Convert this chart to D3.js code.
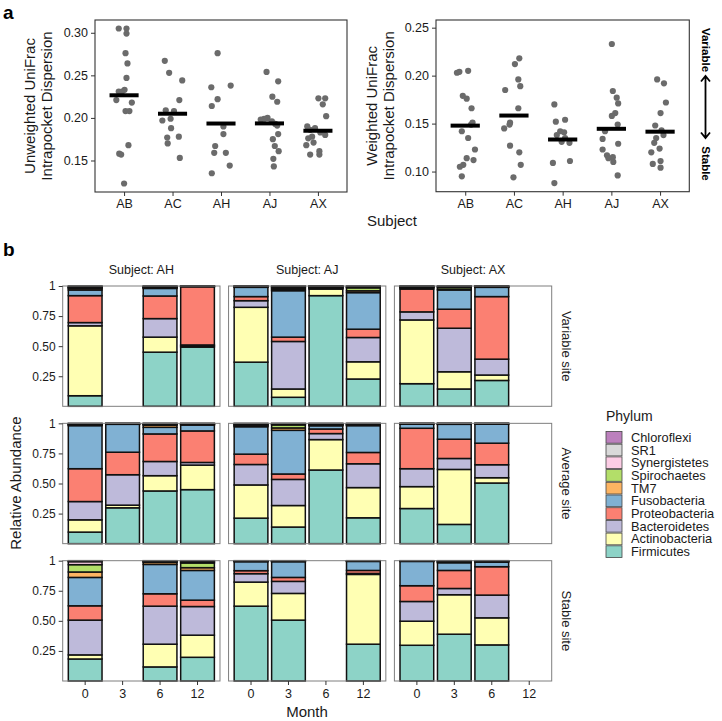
<!DOCTYPE html>
<html><head><meta charset="utf-8">
<script src="https://cdn.jsdelivr.net/npm/d3@7"></script>
<style>
body{margin:0;background:#fff}
svg{display:block}
text{font-family:"Liberation Sans",Arial,Helvetica,sans-serif}
</style>
</head><body>
<svg id="chart" width="722" height="721"></svg>
<script>
// ---------------- Panel a data ----------------
const subjectsA = ["AB","AC","AH","AJ","AX"];
const unweighted = [
  [0.305,0.305,0.299,0.276,0.264,0.247,0.233,0.231,0.231,0.221,0.218,0.208,0.208,0.158,0.157,0.168,0.123],
  [0.267,0.253,0.244,0.221,0.209,0.208,0.199,0.197,0.188,0.177,0.178,0.170,0.153],
  [0.276,0.236,0.238,0.222,0.214,0.190,0.181,0.167,0.159,0.159,0.144,0.135],
  [0.254,0.243,0.225,0.219,0.200,0.199,0.198,0.196,0.193,0.191,0.181,0.175,0.167,0.161,0.152,0.143],
  [0.223,0.223,0.216,0.202,0.190,0.188,0.186,0.183,0.180,0.178,0.176,0.171,0.168,0.161,0.157,0.157]
];
const unweightedJitter = [
  [-0.11,0.05,0.05,0.03,0.07,0.05,0.01,-0.11,-0.04,-0.16,0.16,0.03,0.11,-0.10,-0.06,0.09,0.00],
  [-0.16,-0.07,0.20,0.14,-0.14,0.03,-0.04,-0.21,-0.03,-0.11,0.13,-0.10,0.15],
  [-0.07,-0.20,0.20,-0.07,-0.19,0.05,0.05,-0.12,-0.14,0.10,0.18,-0.19],
  [-0.06,0.18,0.06,0.16,-0.04,-0.11,-0.18,0.05,0.12,0.16,0.18,0.07,0.11,0.19,0.08,0.09],
  [0.01,0.15,0.10,0.17,-0.22,-0.06,-0.16,0.05,0.15,-0.12,-0.20,-0.09,-0.24,0.03,-0.16,0.03]
];
const weighted = [
  [0.203,0.204,0.205,0.179,0.176,0.166,0.151,0.149,0.142,0.135,0.123,0.114,0.112,0.107,0.105,0.095],
  [0.218,0.212,0.196,0.189,0.185,0.166,0.151,0.149,0.145,0.127,0.120,0.107,0.094],
  [0.170,0.152,0.154,0.142,0.141,0.138,0.135,0.131,0.130,0.109,0.111,0.088],
  [0.233,0.184,0.177,0.171,0.161,0.158,0.149,0.142,0.134,0.129,0.123,0.117,0.115,0.114,0.110,0.096],
  [0.196,0.192,0.172,0.161,0.148,0.143,0.138,0.135,0.130,0.124,0.120,0.111,0.108,0.104]
];
const weightedJitter = [
  [-0.17,-0.12,0.06,-0.05,0.03,0.13,0.15,0.12,-0.07,0.06,0.20,0.03,0.17,-0.04,-0.11,-0.07],
  [0.11,0.02,0.09,0.13,-0.18,0.09,-0.08,-0.09,-0.20,-0.08,0.11,0.14,-0.01],
  [-0.17,-0.14,0.05,-0.05,0.03,-0.12,0.05,-0.02,0.14,-0.20,0.15,-0.17],
  [0.01,0.03,0.11,0.14,0.08,0.01,0.13,-0.13,-0.18,0.14,-0.18,-0.09,0.03,-0.06,0.04,0.13],
  [-0.06,0.08,0.12,0.01,-0.10,0.03,0.07,-0.08,-0.12,-0.01,-0.18,0.01,-0.15,0.01]
];
const yDomainUnweighted = [0.113, 0.315];
const yDomainWeighted = [0.079, 0.258];
const yTicksUnweighted = [0.15, 0.20, 0.25, 0.30];
const yTicksWeighted = [0.10, 0.15, 0.20, 0.25];

// ---------------- Panel b data ----------------
const phyla = ["Firmicutes","Actinobacteria","Bacteroidetes","Proteobacteria","Fusobacteria",
               "TM7","Spirochaetes","Synergistetes","SR1","Chloroflexi"];
const phylumColors = ["#8DD3C7","#FFFFB3","#BEBADA","#FB8072","#80B1D3",
                      "#FDB462","#B3DE69","#FCCDE5","#D9D9D9","#BC80BD"];
const subjectsB = ["AH","AJ","AX"];
const months = ["0","3","6","12"];
const sites = ["Variable site","Average site","Stable site"];
// each subject: one entry per month (null = no sample), values in phyla order
const variableSite = [
  [[.088,.581,.027,.224,.047,.013,.005,.005,.005,.005], null,
   [.450,.125,.154,.188,.063,.005,.005,.003,.004,.003],
   [.492,.010,.008,.484,.002,.001,.001,.001,.001,.000]],
  [[.367,.456,.055,.034,.077,.004,.003,.002,.001,.001],
   [.075,.069,.395,.036,.386,.009,.010,.008,.006,.006],
   [.920,.055,.005,.005,.005,.003,.003,.002,.001,.001],
   [.227,.143,.202,.069,.304,.015,.025,.005,.005,.005]],
  [[.188,.530,.067,.190,.010,.004,.004,.003,.002,.002],
   [.144,.143,.362,.158,.160,.008,.015,.004,.003,.003],
   [.215,.045,.132,.520,.077,.003,.003,.002,.002,.001], null]
];
const averageSite = [
  [[.096,.102,.152,.273,.358,.005,.005,.003,.003,.003],
   [.298,.022,.253,.187,.232,.002,.002,.002,.001,.001],
   [.438,.127,.118,.229,.055,.018,.005,.004,.004,.002],
   [.449,.204,.022,.262,.049,.004,.003,.003,.002,.002]],
  [[.212,.276,.170,.086,.228,.008,.006,.005,.005,.004],
   [.138,.179,.217,.045,.363,.020,.025,.005,.004,.004],
   [.612,.253,.050,.038,.027,.005,.005,.004,.003,.003],
   [.215,.251,.198,.094,.223,.005,.005,.003,.003,.003]],
  [[.292,.182,.149,.336,.035,.002,.002,.001,.001,.000],
   [.160,.457,.091,.160,.124,.002,.002,.002,.001,.001],
   [.504,.044,.108,.179,.159,.002,.002,.001,.001,.000], null]
];
const stableSite = [
  [[.183,.034,.289,.119,.236,.045,.061,.025,.004,.004], null,
   [.117,.189,.316,.103,.244,.017,.005,.004,.003,.002],
   [.197,.184,.238,.053,.247,.023,.039,.008,.006,.005]],
  [[.622,.200,.070,.025,.075,.002,.002,.001,.001,.002],
   [.506,.222,.100,.033,.131,.002,.002,.002,.001,.001], null,
   [.306,.580,.008,.025,.075,.002,.002,.001,.001,.000]],
  [[.297,.200,.164,.131,.202,.002,.002,.001,.001,.000],
   [.389,.328,.052,.150,.064,.005,.004,.003,.003,.002],
   [.300,.225,.189,.236,.039,.003,.003,.002,.002,.001], null]
];
const abundanceTicks = [0.25, 0.5, 0.75, 1];
const abundanceTickLabels = ["0.25","0.50","0.75","1"];

// ---------------- Drawing ----------------
const svg = d3.select("#chart");
const TXT = "#1a1a1a";

svg.append("text").attr("x",3).attr("y",19).attr("font-size",19).attr("font-weight","bold").text("a");
svg.append("text").attr("x",3).attr("y",256).attr("font-size",19).attr("font-weight","bold").text("b");

function dotPanel(cfg){
  const g = svg.append("g");
  const x = d3.scalePoint().domain(subjectsA).range([cfg.x0, cfg.x1]).padding(0.6);
  const y = d3.scaleLinear().domain(cfg.domain).range([cfg.y1, cfg.y0]);
  const step = x.step();
  subjectsA.forEach((s,i)=>{
    cfg.values[i].forEach((v,j)=>{
      g.append("circle").attr("cx", x(s) + cfg.jitter[i][j]*step).attr("cy", y(v)).attr("r",3.1)
        .attr("fill","#6b6b6b");
    });
    const m = d3.mean(cfg.values[i]);
    g.append("line").attr("x1", x(s)-0.3*step).attr("x2", x(s)+0.3*step)
      .attr("y1", y(m)).attr("y2", y(m)).attr("stroke","#000").attr("stroke-width",4);
  });
  g.append("rect").attr("x",cfg.x0).attr("y",cfg.y0).attr("width",cfg.x1-cfg.x0).attr("height",cfg.y1-cfg.y0)
    .attr("fill","none").attr("stroke","#333").attr("stroke-width",1.1);
  const ya = g.append("g").attr("transform",`translate(${cfg.x0},0)`)
    .call(d3.axisLeft(y).tickValues(cfg.ticks).tickFormat(d3.format(".2f")).tickSize(4).tickPadding(3));
  const xa = g.append("g").attr("transform",`translate(0,${cfg.y1})`)
    .call(d3.axisBottom(x).tickSize(4).tickPadding(3));
  [ya,xa].forEach(a=>{
    a.select(".domain").remove();
    a.selectAll(".tick line").attr("stroke","#333");
    a.selectAll(".tick text").attr("font-size",12.5).attr("fill",TXT)
      .attr("font-family",'"Liberation Sans",Arial,sans-serif');
  });
  cfg.title.forEach((t,k)=>{
    g.append("text").attr("transform",`translate(${cfg.titleX[k]},${(cfg.y0+cfg.y1)/2}) rotate(-90)`)
      .attr("text-anchor","middle").attr("dominant-baseline","central")
      .attr("font-size",15).attr("fill",TXT).text(t);
  });
}

dotPanel({x0:95,x1:347,y0:20,y1:192,domain:yDomainUnweighted,ticks:yTicksUnweighted,
  values:unweighted,jitter:unweightedJitter,title:["Unweighted UniFrac","Intrapocket Dispersion"],titleX:[29,46]});
dotPanel({x0:436,x1:689.3,y0:20,y1:191.7,domain:yDomainWeighted,ticks:yTicksWeighted,
  values:weighted,jitter:weightedJitter,title:["Weighted UniFrac","Intrapocket Dispersion"],titleX:[371,388]});

svg.append("text").attr("x",392).attr("y",226).attr("text-anchor","middle").attr("font-size",15)
  .attr("fill",TXT).text("Subject");

const ax = 705.5;
svg.append("text").attr("transform",`translate(${ax},50) rotate(90)`).attr("text-anchor","middle")
  .attr("dominant-baseline","central").attr("font-size",11.5).attr("font-weight","bold").text("Variable");
svg.append("text").attr("transform",`translate(${ax},163.5) rotate(90)`).attr("text-anchor","middle")
  .attr("dominant-baseline","central").attr("font-size",11.5).attr("font-weight","bold").text("Stable");
svg.append("path").attr("d",`M${ax},76 L${ax},138 M${ax-4.5},81.5 L${ax},76 L${ax+4.5},81.5 M${ax-4.5},132.5 L${ax},138 L${ax+4.5},132.5`)
  .attr("fill","none").attr("stroke","#000").attr("stroke-width",1.8);

// ---------------- Panel b ----------------
const rowScale = d3.scaleBand().domain(sites).range([286, 681]).paddingInner(0.124);
const colScale = d3.scaleBand().domain(subjectsB).range([62.7, 551.7]).paddingInner(0.0516);
const siteData = [variableSite, averageSite, stableSite];

sites.forEach((site, r)=>{
  const top = rowScale(site), h = rowScale.bandwidth();
  const y = d3.scaleLinear().domain([0,1]).range([top+h, top]);
  subjectsB.forEach((subj, c)=>{
    const left = colScale(subj), w = colScale.bandwidth();
    const x = d3.scaleBand().domain(months).range([left, left+w]).paddingInner(0.1).paddingOuter(0.15);
    const g = svg.append("g");
    siteData[r][c].forEach((vals, mi)=>{
      if(!vals) return;
      let cum = 0;
      vals.forEach((v,pi)=>{
        g.append("rect").attr("x", x(months[mi])).attr("width", x.bandwidth())
          .attr("y", y(cum+v)).attr("height", y(cum)-y(cum+v))
          .attr("fill", phylumColors[pi]).attr("stroke","#111").attr("stroke-width",1.5);
        cum += v;
      });
    });
    g.append("rect").attr("x",left).attr("y",top).attr("width",w).attr("height",h)
      .attr("fill","none").attr("stroke","#7f7f7f").attr("stroke-width",1);
    if(r===0){
      svg.append("text").attr("x",left+w/2).attr("y",top-16).attr("text-anchor","middle")
        .attr("dominant-baseline","central").attr("font-size",12.5).attr("fill",TXT).text("Subject: "+subj);
    }
    if(c===0){
      const ya = svg.append("g").attr("transform",`translate(${left},0)`)
        .call(d3.axisLeft(y).tickValues(abundanceTicks).tickFormat((d,i)=>abundanceTickLabels[i]).tickSize(4).tickPadding(3));
      ya.select(".domain").remove();
      ya.selectAll(".tick line").attr("stroke","#333");
      ya.selectAll(".tick text").attr("font-size",12).attr("fill",TXT);
    }
    if(r===sites.length-1){
      const xa = svg.append("g").attr("transform",`translate(0,${top+h})`)
        .call(d3.axisBottom(x).tickSize(4).tickPadding(4));
      xa.select(".domain").remove();
      xa.selectAll(".tick line").attr("stroke","#333");
      xa.selectAll(".tick text").attr("font-size",12.5).attr("fill",TXT);
    }
  });
  svg.append("text").attr("transform",`translate(566.5,${top+h/2}) rotate(90)`).attr("text-anchor","middle")
    .attr("dominant-baseline","central").attr("font-size",13).attr("fill",TXT).text(site);
});

svg.append("text").attr("x",307).attr("y",717).attr("text-anchor","middle").attr("font-size",15)
  .attr("fill",TXT).text("Month");
svg.append("text").attr("transform","translate(15,483) rotate(-90)").attr("text-anchor","middle")
  .attr("dominant-baseline","central").attr("font-size",15).attr("fill",TXT).text("Relative Abundance");

// legend
const leg = svg.append("g");
leg.append("text").attr("x",606).attr("y",421).attr("font-size",14).attr("fill",TXT).text("Phylum");
const legOrder = phyla.slice().reverse();
const ky = d3.scaleBand().domain(legOrder).range([431, 558]);
legOrder.forEach(p=>{
  const i = phyla.indexOf(p);
  leg.append("rect").attr("x",606).attr("y",ky(p)+0.5).attr("width",16).attr("height",ky.bandwidth()-1)
    .attr("fill",phylumColors[i]).attr("stroke","#444").attr("stroke-width",0.8);
  leg.append("text").attr("x",631).attr("y",ky(p)+ky.bandwidth()/2).attr("dominant-baseline","central")
    .attr("font-size",12.8).attr("fill",TXT).text(p);
});
</script>
</body></html>
